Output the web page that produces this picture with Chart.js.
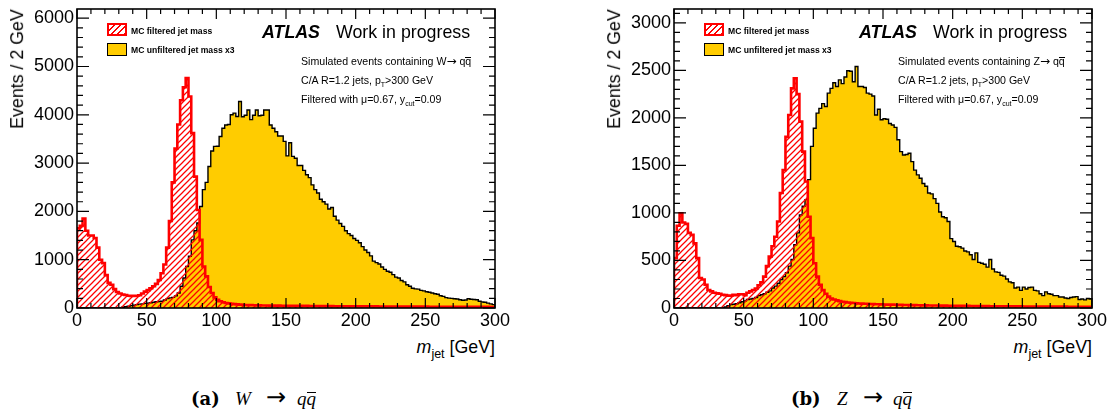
<!DOCTYPE html>
<html><head><meta charset="utf-8">
<script src="https://cdn.jsdelivr.net/npm/chart.js@4.4.1/dist/chart.umd.min.js"></script>
<style>
html,body{margin:0;padding:0;background:#fff;}
body{width:1110px;height:416px;position:relative;overflow:hidden;font-family:"Liberation Sans",Arial,sans-serif;color:#000;}
.panel{position:absolute;top:0;height:416px;}
.panel canvas{position:absolute;left:0;top:0;}
.t{position:absolute;white-space:nowrap;line-height:1;}
.ytitle{font-size:17.8px;left:18px;top:69px;transform:translate(-50%,-50%) rotate(-90deg);}
.sw{position:absolute;box-sizing:border-box;width:20px;height:13px;left:107px;}
.sw1{top:23px;border:2px solid #f00;background:repeating-linear-gradient(135deg,#fff 0 3.2px,#f00 3.2px 4.4px);}
.sw2{top:43px;border:1.5px solid #000;background:#ffcc00;}
.lg{font-weight:bold;font-size:8.6px;left:131px;transform:translateY(-50%);}
.atlas{font-weight:bold;font-style:italic;font-size:17.8px;left:262px;top:33px;transform:translateY(-50%);}
.wip{font-size:17.8px;left:336px;top:33px;transform:translateY(-50%);}
.info{font-size:10.6px;left:301px;transform:translateY(-50%);}
.info sub{font-size:7px;vertical-align:-3px;line-height:0;}
.arr{font-family:"DejaVu Sans",sans-serif;font-size:12px;}
.ov{display:inline-block;border-top:1px solid #000;line-height:0.6em;}
.xtitle{font-size:17.8px;top:348px;transform:translateY(-50%);}
.xtitle sub{font-size:12.5px;vertical-align:-5px;line-height:0;}
.cap{font-family:"Liberation Serif","DejaVu Serif",serif;font-size:19px;top:398px;transform:translateY(-50%);}
.cap span{display:inline-block;}
.cap b{font-family:"DejaVu Serif",serif;font-size:18px;}
.cap .carr{font-family:"DejaVu Sans",sans-serif;font-size:24px;line-height:19px;}
.cap .ovq{border-top:1px solid #000;line-height:0.62em;}
</style></head><body>

<div class="panel" id="pw" style="left:0;width:555px;">
  <canvas id="cw" width="555" height="335"></canvas>
  <div class="t ytitle">Events / 2 GeV</div>
  <div class="sw sw1"></div><div class="sw sw2"></div>
  <div class="t lg" style="top:31px">MC filtered jet mass</div>
  <div class="t lg" style="top:50px">MC unfiltered jet mass x3</div>
  <div class="t atlas">ATLAS</div>
  <div class="t wip">Work in progress</div>
  <div class="t info" style="top:60.5px">Simulated events containing W<span class="arr">→</span> q<span class="ov">q</span></div>
  <div class="t info" style="top:79.5px">C/A R=1.2 jets, p<sub>T</sub>&gt;300 GeV</div>
  <div class="t info" style="top:98.5px">Filtered with μ=0.67, y<sub>cut</sub>=0.09</div>
  <div class="t xtitle" style="right:60px"><i>m</i><sub>jet</sub> [GeV]</div>
  <div class="t cap" style="left:191px"><span style="width:44px"><b>(a)</b></span><span style="width:31px"><i>W</i></span><span class="carr" style="width:31px">→</span><span><i>q</i></span><span class="ovq"><i>q</i></span></div>
</div>

<div class="panel" id="pz" style="left:597px;width:513px;">
  <canvas id="cz" width="513" height="335"></canvas>
  <div class="t ytitle">Events / 2 GeV</div>
  <div class="sw sw1"></div><div class="sw sw2"></div>
  <div class="t lg" style="top:31px">MC filtered jet mass</div>
  <div class="t lg" style="top:50px">MC unfiltered jet mass x3</div>
  <div class="t atlas">ATLAS</div>
  <div class="t wip">Work in progress</div>
  <div class="t info" style="top:60.5px">Simulated events containing Z<span class="arr">→</span> q<span class="ov">q</span></div>
  <div class="t info" style="top:79.5px">C/A R=1.2 jets, p<sub>T</sub>&gt;300 GeV</div>
  <div class="t info" style="top:98.5px">Filtered with μ=0.67, y<sub>cut</sub>=0.09</div>
  <div class="t xtitle" style="right:18px"><i>m</i><sub>jet</sub> [GeV]</div>
  <div class="t cap" style="left:194px"><span style="width:46px"><b>(b)</b></span><span style="width:26px"><i>Z</i></span><span class="carr" style="width:30px">→</span><span><i>q</i></span><span class="ovq"><i>q</i></span></div>
</div>

<script>
const binWidth = 2;
const xTickValues = [0, 50, 100, 150, 200, 250, 300];
const wYTickValues = [0, 1000, 2000, 3000, 4000, 5000, 6000];
const zYTickValues = [0, 500, 1000, 1500, 2000, 2500, 3000];
const wYMax = 6190;
const zYMax = 3145;

const wFiltered = [
  1650,1700,1850,1600,1500,1500,1450,1250,1000,930,
  680,520,480,390,330,300,280,270,255,250,
  250,255,265,300,340,370,410,450,500,580,
  720,900,1250,1800,2600,3300,3800,4300,4570,4760,
  4380,3620,2720,2030,1410,860,655,435,310,220,
  170,140,120,105,95,88,80,76,70,66,
  63,60,59,57,55,56,53,52,51,50,
  49,48,49,47,46,45,46,44,44,43,
  43,42,43,41,41,40,41,39,39,38,
  38,39,37,37,36,37,36,35,35,35,
  34,35,34,33,34,33,32,33,32,31,
  31,32,30,31,30,30,29,30,29,29,
  28,29,28,28,27,28,27,27,26,27,
  26,26,25,26,25,25,25,24,25,24,
  24,24,23,24,23,23,22,23,22,22
];
const wUnfiltered = [
  0,0,0,0,0,0,0,0,0,0,
  0,0,0,0,3,8,15,25,35,50,
  60,70,80,85,95,100,110,120,130,135,
  140,165,195,210,220,250,310,450,620,860,
  1070,1410,1600,1760,2100,2450,2600,2930,3250,3345,
  3350,3550,3720,3790,3800,4000,4035,3965,4275,3960,
  3990,4100,3900,3990,4100,3980,3990,4100,4100,3790,
  3720,3650,3560,3560,3450,3150,3420,3140,3100,2950,
  2950,2850,2760,2700,2550,2450,2380,2250,2200,2150,
  2050,2080,1900,1820,1750,1690,1600,1540,1500,1440,
  1400,1350,1270,1200,1150,1080,970,940,910,850,
  800,760,740,690,640,620,570,540,480,450,
  410,395,390,365,355,335,325,310,295,285,
  255,240,215,205,200,190,185,170,160,165,
  190,180,175,170,140,125,120,100,85,70
];
const zFiltered = [
  525,865,995,900,885,790,770,680,525,315,
  300,245,190,175,160,155,150,140,135,130,
  130,140,135,145,145,135,160,175,190,205,
  240,270,330,440,540,650,750,910,1210,1450,
  1800,2030,2310,2416,2250,1960,1645,1330,960,735,
  470,330,245,190,150,120,100,90,80,72,
  66,62,58,55,52,50,48,46,45,44,
  42,41,40,39,38,37,36,36,35,34,
  33,33,32,31,31,30,30,29,29,28,
  28,27,27,26,26,25,25,25,24,24,
  23,23,23,22,22,22,21,21,21,20,
  20,20,20,19,19,19,19,18,18,18,
  18,17,17,17,17,16,16,16,16,16,
  15,15,15,15,15,14,14,14,14,14,
  14,13,13,13,13,13,12,12,12,12
];
const zUnfiltered = [
  0,0,0,0,0,0,0,0,0,0,
  0,0,0,0,0,0,0,0,10,25,
  35,40,45,55,65,75,90,95,100,110,
  130,140,150,165,180,210,230,260,300,330,
  370,440,510,665,790,980,1070,1140,1350,1700,
  1890,2050,2100,2150,2120,2260,2310,2370,2330,2400,
  2360,2430,2495,2490,2380,2540,2330,2330,2320,2260,
  2250,2230,2030,2090,1980,1990,1985,1940,1925,1900,
  1770,1645,1610,1615,1628,1540,1450,1400,1365,1310,
  1280,1210,1200,1150,1100,1010,960,950,910,730,
  700,650,645,630,600,590,560,510,580,480,
  470,460,430,510,410,380,375,345,335,305,
  275,265,210,220,185,220,200,215,220,185,
  180,150,130,170,150,145,130,130,115,115,
  105,100,110,115,120,90,95,85,100,95
];

const FONT = '"Liberation Sans", Arial, sans-serif';

function histPoints(values) {
  const pts = [{ x: 0, y: 0 }];
  values.forEach((v, i) => pts.push({ x: i * binWidth, y: v }));
  const end = values.length * binWidth;
  pts.push({ x: end, y: values[values.length - 1] });
  pts.push({ x: end, y: 0 });
  return pts;
}

// hatch tile; phase aligned to page coordinates so both panels look identical
function makeHatch(targetCanvas, pageLeft) {
  const s = 6;
  const c = document.createElement('canvas');
  c.width = s; c.height = s;
  const g = c.getContext('2d');
  g.strokeStyle = 'rgb(255,0,0)';
  g.lineWidth = 1.25;
  g.beginPath();
  g.moveTo(0, s); g.lineTo(s, 0);
  g.moveTo(-1, 1); g.lineTo(1, -1);
  g.moveTo(s - 1, s + 1); g.lineTo(s + 1, s - 1);
  g.stroke();
  const p = targetCanvas.getContext('2d').createPattern(c, 'repeat');
  const shift = ((3 - pageLeft) % s + s) % s;
  if (p.setTransform) p.setTransform(new DOMMatrix([1, 0, 0, 1, shift, 0]));
  return p;
}

const rootFrame = {
  id: 'rootFrame',
  afterDatasetsDraw(chart, args, o) {
    const ctx = chart.ctx, a = chart.chartArea;
    const xs = chart.scales.x, ys = chart.scales.y;
    ctx.save();
    ctx.strokeStyle = '#000';
    ctx.lineWidth = 1.2;
    ctx.beginPath();
    for (let v = xs.min; v <= xs.max + 1e-6; v += o.xMinor) {
      const p = xs.getPixelForValue(v);
      const L = (Math.abs(v % o.xMajor) < 1e-6) ? o.xLen : o.xLen / 2;
      ctx.moveTo(p, a.bottom); ctx.lineTo(p, a.bottom - L);
      ctx.moveTo(p, a.top); ctx.lineTo(p, a.top + L);
    }
    for (let v = 0; v <= ys.max + 1e-6; v += o.yMinor) {
      const p = ys.getPixelForValue(v);
      const L = (Math.abs(v % o.yMajor) < 1e-6) ? o.yLen : o.yLen / 2;
      ctx.moveTo(a.left, p); ctx.lineTo(a.left + L, p);
      ctx.moveTo(a.right, p); ctx.lineTo(a.right - L, p);
    }
    ctx.stroke();
    ctx.lineWidth = 1.6;
    ctx.strokeRect(a.left, a.top, a.right - a.left, a.bottom - a.top);
    ctx.restore();
  }
};

function buildChart(canvasId, pageLeft, filtered, unfiltered, yMax, yTicks, yMinor, rightPad) {
  const canvas = document.getElementById(canvasId);
  const hatch = makeHatch(canvas, pageLeft);
  return new Chart(canvas, {
    type: 'line',
    data: {
      datasets: [
        { label: 'MC filtered jet mass', data: histPoints(filtered), stepped: 'before',
          borderColor: '#ff0000', borderWidth: 2.6, backgroundColor: hatch, fill: 'origin',
          pointRadius: 0, pointHoverRadius: 0 },
        { label: 'MC unfiltered jet mass x3', data: histPoints(unfiltered), stepped: 'before',
          borderColor: '#000000', borderWidth: 1.4, backgroundColor: '#ffcc00', fill: 'origin',
          pointRadius: 0, pointHoverRadius: 0 }
      ]
    },
    options: {
      responsive: false, animation: false, devicePixelRatio: 1, events: [],
      layout: { padding: { left: 0, right: rightPad, top: 9, bottom: 0 } },
      plugins: {
        legend: { display: false }, tooltip: { enabled: false }, colors: { enabled: false },
        rootFrame: { xMinor: 10, xMajor: 50, xLen: 10, yMinor: yMinor, yMajor: yTicks[1] - yTicks[0], yLen: 12 }
      },
      scales: {
        x: {
          type: 'linear', min: 0, max: 300,
          grid: { display: false, drawTicks: false }, border: { display: false },
          ticks: { color: '#000', font: { family: FONT, size: 18 }, padding: 2, autoSkip: false, maxRotation: 0, callback: v => String(v) },
          afterBuildTicks: s => { s.ticks = xTickValues.map(v => ({ value: v })); },
          afterFit: s => { s.height = 27; s.paddingLeft = 0; s.paddingRight = 0; }
        },
        y: {
          type: 'linear', min: 0, max: yMax,
          grid: { display: false, drawTicks: false }, border: { display: false },
          ticks: { color: '#000', font: { family: FONT, size: 18 }, padding: 3, autoSkip: false, callback: v => String(v) },
          afterBuildTicks: s => { s.ticks = yTicks.map(v => ({ value: v })); },
          afterFit: s => { s.width = 77; s.paddingTop = 0; s.paddingBottom = 0; }
        }
      }
    },
    plugins: [rootFrame]
  });
}

buildChart('cw', 0, wFiltered, wUnfiltered, wYMax, wYTickValues, 200, 60);
buildChart('cz', 597, zFiltered, zUnfiltered, zYMax, zYTickValues, 100, 18);
</script>
</body></html>
